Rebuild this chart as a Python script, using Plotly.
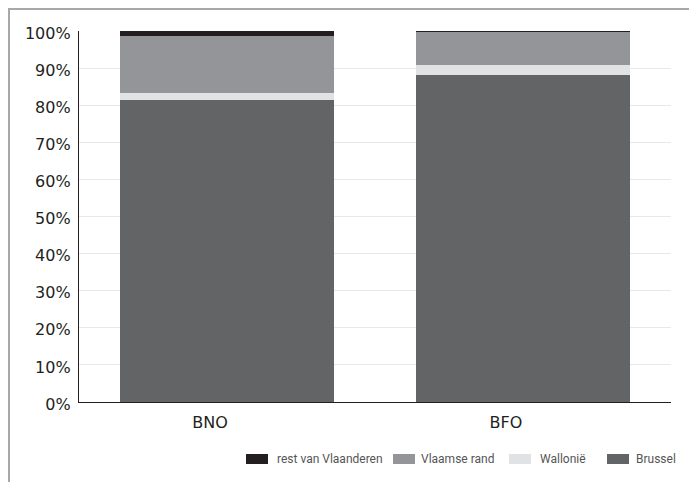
import plotly.graph_objects as go

categories = ["BNO", "BFO"]
series_names = ["Brussel", "Wallonië", "Vlaamse rand", "rest van Vlaanderen"]
brussel = [81.4, 88.1]
wallonie = [1.9, 2.7]
vlaamse_rand = [15.3, 9.0]
rest_vlaanderen = [1.4, 0.2]
series_values = [brussel, wallonie, vlaamse_rand, rest_vlaanderen]
colors = ["#636466", "#e1e2e3", "#939598", "#231f20"]
y_ticks = [0, 10, 20, 30, 40, 50, 60, 70, 80, 90, 100]
y_tick_labels = [f"{v}%" for v in y_ticks]

fig = go.Figure()
for name, vals, col in zip(series_names, series_values, colors):
    fig.add_trace(go.Bar(x=categories, y=vals, name=name, marker_color=col,
                         marker_line_width=0, width=0.72, showlegend=False))

# page body has an 8px margin, so figure pixel coords = screen coords - 8
OFF = 8
W, H = 697 - OFF, 482 - OFF
L, T = 79 - OFF, 31 - OFF
PR, PB = 671 - OFF, 402 - OFF
R, B = W - PR, H - PB
pw, ph = PR - L, PB - T

def px_x(p):
    return (p - OFF - L) / pw

def px_y(p):
    return (PB - (p - OFF)) / ph

# custom legend (reversed stack order), layout positions in screen pixels
legend_swatch_x = [607, 509, 393, 246]
legend_text_x = [636, 540, 421, 277]
legend_y = 459
shapes = [dict(type="rect", xref="paper", yref="paper",
               x0=px_x(9), y0=px_y(540), x1=px_x(740), y1=px_y(9),
               line=dict(color="#a8a8a8", width=2), layer="below")]
annotations = []
for name, col, sx, tx in zip(series_names, colors, legend_swatch_x, legend_text_x):
    shapes.append(dict(type="rect", xref="paper", yref="paper",
                       x0=px_x(sx), x1=px_x(sx + 22),
                       y0=px_y(legend_y + 5), y1=px_y(legend_y - 5),
                       fillcolor=col, line=dict(width=0)))
    annotations.append(dict(text=name, xref="paper", yref="paper",
                            x=px_x(tx - 2), y=px_y(legend_y), xanchor="left", yanchor="middle",
                            showarrow=False,
                            font=dict(family="Roboto", size=12, color="#555555")))

fig.update_layout(
    width=W, height=H,
    margin=dict(l=L, r=R, t=T, b=B, pad=0),
    barmode="stack",
    plot_bgcolor="white", paper_bgcolor="white",
    font=dict(family="DejaVu Sans", size=16, color="#231f20"),
    showlegend=False,
    xaxis=dict(showline=True, linecolor="#231f20", linewidth=1.3, automargin=False,
               ticks="", ticklabelstandoff=6, ticklabelshift=-17, showgrid=False,
               tickfont=dict(family="DejaVu Sans", size=16, color="#231f20")),
    yaxis=dict(range=[0, 100], tickvals=y_ticks, ticktext=y_tick_labels, automargin=False,
               showline=True, linecolor="#231f20", linewidth=1.3,
               showgrid=True, gridcolor="#e8e8e8", gridwidth=1.3,
               ticks="", ticklabelstandoff=4, ticklabelshift=2, zeroline=False,
               tickfont=dict(family="DejaVu Sans", size=16, color="#231f20")),
    shapes=shapes,
    annotations=annotations,
)

fig.write_html("out.html")
